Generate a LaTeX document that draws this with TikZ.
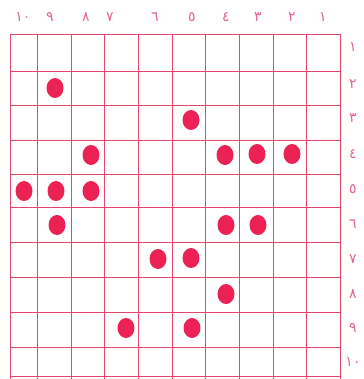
\documentclass[tikz,border=0pt]{standalone}
\usepackage{fontspec}
\newfontfamily\arabicfont[Script=Arabic]{DejaVu Sans}
\definecolor{inkred}{RGB}{228,70,110}
\definecolor{dotred}{RGB}{236,34,84}
\tikzset{
    gridline/.style={inkred, line width=0.9pt},
    dotmark/.style={fill=dotred, draw=none},
    numlabel/.style={inkred!85, font=\arabicfont\fontsize{14}{14}\selectfont, inner sep=0pt}
}

\begin{document}
\begin{tikzpicture}[x=1pt, y=-1pt]
    \useasboundingbox (0,0) rectangle (363,379);

    % --- Grid (hand drawn, slightly uneven spacing) ---
    \foreach \x in {10,37,71,104,138,172,205,239,273,306,340}
        \draw[gridline] (\x,34) -- (\x,379);
    \foreach \y in {34,71,105,140,174,207,242,277,312,347,376}
        \draw[gridline] (10,\y) -- (340,\y);

    % --- Column numbers, counted from the right ---
    \foreach \x/\t in {323/١,292/٢,258/٣,226/٤,192/٥,155/٦,110/٧,86/٨,50/٩,23/١٠}
        \node[numlabel] at (\x,17) {\t};

    % --- Row numbers on the right ---
    \foreach \y/\t in {47/١,84/٢,118/٣,154/٤,189/٥,224/٦,259/٧,294/٨,328/٩,362/١٠}
        \node[numlabel] at (353,\y) {\t};

    % --- Marked cells ---
    \foreach \x/\y in {55/88, 191/120, 91/155, 225/155, 257/154, 292/154,
                       24/191, 56/191, 91/191, 57/225, 226/225, 258/225,
                       158/259, 191/258, 226/294, 126/328, 192/328}
        \fill[dotmark] (\x,\y) circle[x radius=8.5pt, y radius=10pt];
\end{tikzpicture}
\end{document}
